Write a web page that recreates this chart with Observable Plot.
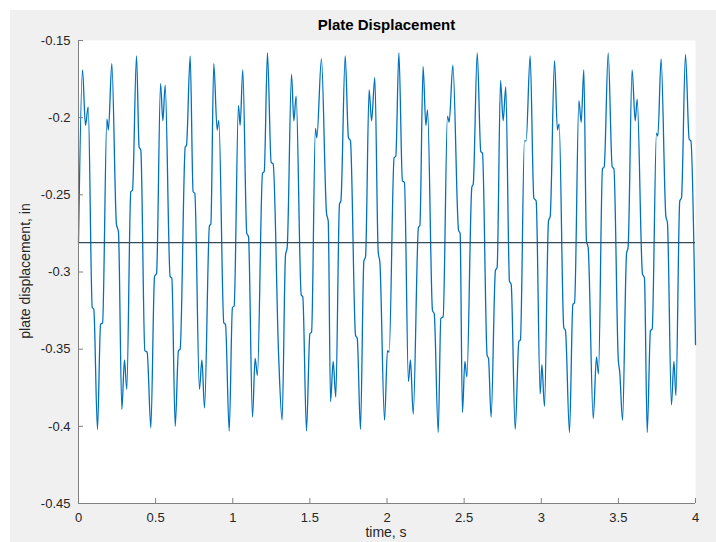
<!DOCTYPE html>
<html><head><meta charset="utf-8">
<script src="https://cdn.jsdelivr.net/npm/d3@7"></script>
<script src="https://cdn.jsdelivr.net/npm/@observablehq/plot@0.6"></script>
<style>
html,body{margin:0;padding:0;background:#fff;width:716px;height:542px;overflow:hidden;}
#panel{position:absolute;left:10px;top:10px;width:706px;height:532px;background:#f0f0f0;}
#chart{position:absolute;left:0;top:0;}
#title{position:absolute;left:78px;width:617px;top:16px;text-align:center;font:bold 15px "Liberation Sans",Arial,sans-serif;color:#000;line-height:17px;}
#ylab{position:absolute;left:-75px;top:263px;width:200px;text-align:center;font:14px "Liberation Sans",Arial,sans-serif;color:#262626;line-height:16px;transform:rotate(-90deg);transform-origin:center;}
#xlab{position:absolute;left:286px;width:200px;top:524px;text-align:center;font:14px "Liberation Sans",Arial,sans-serif;color:#262626;line-height:16px;}
</style></head><body>
<div id="panel"></div>
<div id="chart"></div>
<div id="title">Plate Displacement</div>
<div id="ylab">plate displacement, in</div>
<div id="xlab">time, s</div>
<script>
const time = [0.000,0.026,0.045,0.063,0.089,0.099,0.123,0.143,0.156,0.184,0.194,0.216,0.246,0.259,0.281,0.298,0.313,0.339,0.350,0.376,0.393,0.404,0.430,0.445,0.469,0.493,0.506,0.532,0.547,0.562,0.594,0.605,0.627,0.648,0.659,0.692,0.700,0.724,0.743,0.754,0.784,0.800,0.817,0.849,0.858,0.877,0.899,0.910,0.942,0.953,0.977,0.998,1.009,1.037,1.048,1.065,1.091,1.102,1.128,1.145,1.160,1.193,1.204,1.225,1.249,1.262,1.297,1.320,1.342,1.353,1.381,1.396,1.411,1.444,1.454,1.478,1.500,1.511,1.536,1.545,1.575,1.608,1.619,1.634,1.651,1.668,1.692,1.701,1.729,1.750,1.763,1.796,1.807,1.828,1.850,1.861,1.884,1.900,1.921,1.943,1.954,1.984,2.003,2.014,2.046,2.057,2.077,2.100,2.113,2.139,2.152,2.170,2.204,2.213,2.234,2.252,2.263,2.295,2.306,2.332,2.349,2.364,2.392,2.403,2.427,2.464,2.474,2.489,2.505,2.518,2.550,2.559,2.585,2.608,2.619,2.649,2.658,2.675,2.703,2.714,2.736,2.753,2.770,2.794,2.805,2.831,2.855,2.865,2.891,2.902,2.928,2.952,2.967,2.993,3.004,3.021,3.047,3.058,3.086,3.105,3.116,3.146,3.157,3.183,3.205,3.216,3.244,3.259,3.276,3.293,3.304,3.337,3.358,3.371,3.397,3.408,3.434,3.460,3.471,3.499,3.509,3.527,3.553,3.563,3.589,3.609,3.622,3.656,3.669,3.687,3.708,3.719,3.747,3.756,3.777,3.808,3.818,3.844,3.860,3.873,3.898,3.909,3.935,3.959,3.970,4.000];
const displacement = [-0.281,-0.169,-0.205,-0.193,-0.323,-0.324,-0.402,-0.334,-0.333,-0.201,-0.208,-0.165,-0.269,-0.274,-0.389,-0.357,-0.376,-0.248,-0.247,-0.160,-0.219,-0.221,-0.351,-0.352,-0.401,-0.303,-0.301,-0.178,-0.202,-0.179,-0.303,-0.304,-0.400,-0.351,-0.350,-0.219,-0.218,-0.160,-0.248,-0.249,-0.376,-0.357,-0.388,-0.270,-0.269,-0.165,-0.208,-0.202,-0.333,-0.334,-0.403,-0.323,-0.322,-0.192,-0.205,-0.169,-0.275,-0.277,-0.394,-0.356,-0.367,-0.236,-0.235,-0.158,-0.229,-0.230,-0.353,-0.396,-0.289,-0.284,-0.172,-0.202,-0.186,-0.315,-0.316,-0.403,-0.340,-0.339,-0.207,-0.213,-0.162,-0.262,-0.267,-0.384,-0.358,-0.381,-0.256,-0.254,-0.160,-0.213,-0.215,-0.341,-0.343,-0.402,-0.293,-0.290,-0.182,-0.202,-0.174,-0.287,-0.294,-0.396,-0.351,-0.352,-0.226,-0.225,-0.158,-0.241,-0.242,-0.371,-0.357,-0.392,-0.271,-0.270,-0.167,-0.205,-0.195,-0.325,-0.327,-0.404,-0.330,-0.329,-0.199,-0.203,-0.166,-0.273,-0.275,-0.391,-0.358,-0.368,-0.245,-0.243,-0.158,-0.222,-0.223,-0.354,-0.356,-0.394,-0.299,-0.297,-0.176,-0.202,-0.180,-0.306,-0.308,-0.402,-0.345,-0.344,-0.215,-0.215,-0.160,-0.252,-0.254,-0.379,-0.360,-0.387,-0.267,-0.264,-0.163,-0.208,-0.204,-0.336,-0.338,-0.404,-0.321,-0.320,-0.189,-0.203,-0.169,-0.280,-0.284,-0.395,-0.355,-0.366,-0.233,-0.232,-0.158,-0.232,-0.233,-0.356,-0.365,-0.396,-0.288,-0.284,-0.169,-0.202,-0.188,-0.301,-0.304,-0.404,-0.338,-0.337,-0.210,-0.212,-0.162,-0.264,-0.268,-0.386,-0.358,-0.380,-0.254,-0.252,-0.159,-0.214,-0.215,-0.347];
const meanLevel = [-0.281];
const xTicks = [0,0.5,1,1.5,2,2.5,3,3.5,4];
const yTicks = [-0.45,-0.4,-0.35,-0.3,-0.25,-0.2,-0.15];

const data = time.map((t,i)=>({t, v: displacement[i]}));
const axisGray = "#808080";
const chart = Plot.plot({
  width:716, height:542,
  marginLeft:78, marginRight:21, marginTop:40, marginBottom:39,
  style:{background:"transparent", fontFamily:"'Liberation Sans', Arial, sans-serif", fontSize:"13px", color:"#262626"},
  x:{domain:[0,4]},
  y:{domain:[-0.45,-0.15]},
  marks:[
    Plot.frame({fill:"white", stroke:"none"}),
    Plot.line(data, {x:"t", y:"v", stroke:"#0072BD", strokeWidth:1.3, curve:"monotone-x"}),
    Plot.ruleY(meanLevel, {stroke:"#34495a", strokeWidth:1.2}),
    Plot.ruleX([0], {stroke:axisGray, strokeWidth:1}),
    Plot.ruleY([-0.45], {stroke:axisGray, strokeWidth:1}),
    Plot.axisX(xTicks, {tickSize:-5, tickPadding:14, tickFormat:d=>String(d), label:null, stroke:axisGray, fill:"#262626"}),
    Plot.axisY(yTicks, {tickSize:-5, tickPadding:13, tickFormat:d=>String(d), label:null, stroke:axisGray, fill:"#262626"})
  ]
});
document.getElementById("chart").appendChild(chart);
</script>
</body></html>
